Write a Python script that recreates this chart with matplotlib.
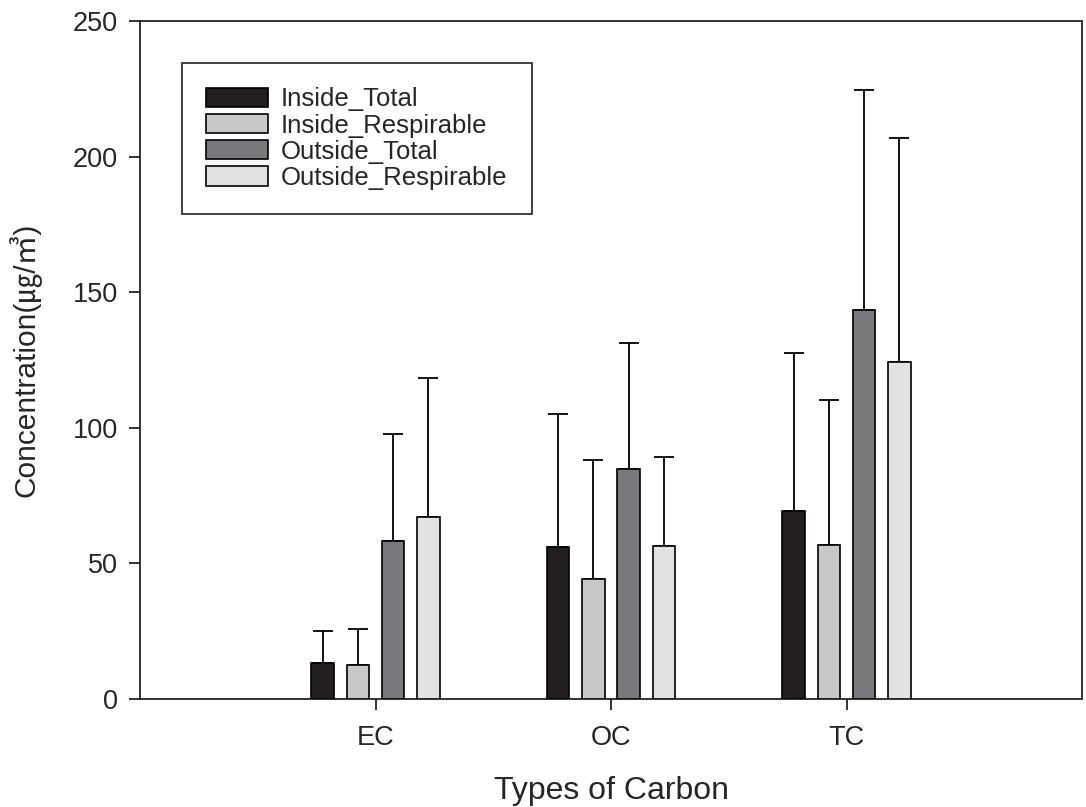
import matplotlib
matplotlib.use("Agg")
import matplotlib.pyplot as plt
import numpy as np

plt.rcParams['font.family'] = ['Liberation Sans', 'Noto Sans CJK KR', 'DejaVu Sans']

categories = ["EC", "OC", "TC"]
series = ["Inside_Total", "Inside_Respirable", "Outside_Total", "Outside_Respirable"]
inside_total = [13.2, 56.2, 69.2]
inside_total_err = [12.0, 48.9, 58.3]
inside_resp = [12.5, 44.4, 56.9]
inside_resp_err = [13.3, 43.7, 53.3]
outside_total = [58.4, 84.7, 143.4]
outside_total_err = [39.2, 46.5, 81.3]
outside_resp = [67.0, 56.4, 124.1]
outside_resp_err = [51.3, 32.7, 82.7]
y_ticks = [0, 50, 100, 150, 200, 250]

values = [inside_total, inside_resp, outside_total, outside_resp]
errors = [inside_total_err, inside_resp_err, outside_total_err, outside_resp_err]
colors = ["#231f20", "#c8c8c8", "#79787d", "#e2e2e2"]
txt = "#262626"

fig = plt.figure(figsize=(10.86, 8.07), dpi=100)
ax = fig.add_axes([140/1086, 108/807, 942/1086, 678/807])

x = np.arange(1, len(categories) + 1)
pitch = 0.15
width = 0.095
for i, (vals, errs, col, name) in enumerate(zip(values, errors, colors, series)):
    off = (i - 1.5) * pitch
    ax.bar(x + off, vals, width=width, color=col, edgecolor="black", linewidth=1.2,
           label=name, zorder=3)
    ax.errorbar(x + off, vals, yerr=[np.zeros(len(vals)), errs], fmt="none",
                ecolor="black", elinewidth=1.3, capsize=7.5, capthick=1.3, zorder=2)

ax.set_xlim(0, 4)
ax.set_ylim(0, 250)
ax.set_xticks(x)
ax.set_xticklabels(categories)
ax.set_yticks(y_ticks)
for s in ax.spines.values():
    s.set_linewidth(1.3)
    s.set_color("#222222")
ax.tick_params(axis="both", direction="out", length=8, width=1.3, labelsize=19.5,
               colors="#222222", labelcolor=txt)
ax.tick_params(axis="y", pad=8)
ax.tick_params(axis="x", pad=11)

ax.set_xlabel("Types of Carbon", fontsize=23, color=txt, labelpad=18)
ax.set_ylabel("Concentration(㎍/㎥)", fontsize=21.5, color=txt, labelpad=22)

leg = ax.legend(loc="upper left", bbox_to_anchor=(0.0446, 0.938), borderaxespad=0,
                fontsize=18.5, frameon=True, fancybox=False, edgecolor="black",
                handlelength=2.4, handleheight=0.8, handletextpad=0.5,
                labelspacing=0.08, borderpad=0.95)
leg.get_frame().set_linewidth(1.3)
for t in leg.get_texts():
    t.set_color(txt)

fig.savefig("out.png", dpi=100, facecolor="white")
